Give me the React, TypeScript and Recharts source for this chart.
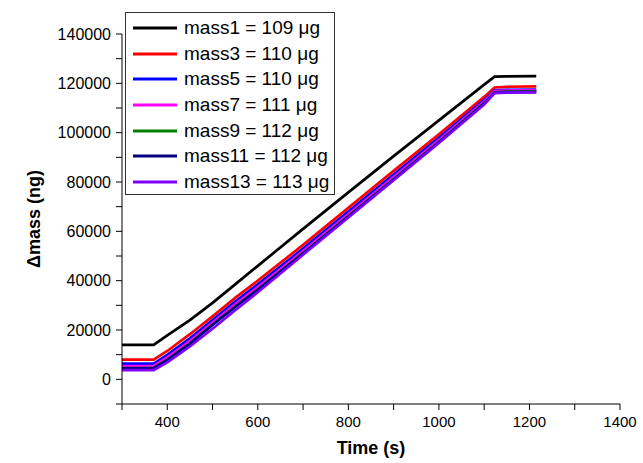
import React from 'react';
import { LineChart, Line, XAxis, YAxis, Legend } from 'recharts';

const times = [300, 370, 400, 450, 500, 550, 600, 700, 800, 900, 1000, 1100, 1123, 1150, 1215];
const mass1 = [14000, 14000, 17800, 24000, 31000, 38500, 46000, 61000, 75800, 90500, 105000, 119500, 122700, 122800, 122900];
const mass3 = [8000, 8000, 11500, 18300, 25500, 33000, 40000, 54500, 69500, 84500, 99300, 114500, 118300, 118600, 118800];
const mass5 = [6400, 6400, 9900, 16600, 24000, 31500, 38500, 53000, 68000, 83000, 97900, 113200, 117200, 117400, 117500];
const mass7 = [5400, 5400, 8900, 15500, 23000, 30400, 37400, 52000, 67000, 82000, 97000, 112600, 116900, 117100, 117200];
const mass9 = [4600, 4600, 8000, 14600, 22200, 29500, 36500, 51200, 66200, 81200, 96300, 112000, 116400, 116600, 116700];
const mass11 = [4500, 4500, 7800, 14400, 22000, 29300, 36300, 51000, 66000, 81000, 96100, 111800, 116200, 116400, 116500];
const mass13 = [3700, 3700, 6900, 13300, 20500, 28000, 35300, 50500, 65600, 80700, 95800, 111400, 116000, 116200, 116300];

const seriesKeys = ['m1', 'm3', 'm5', 'm7', 'm9', 'm11', 'm13'];
const seriesNames = [
  'mass1 = 109 μg',
  'mass3 = 110 μg',
  'mass5 = 110 μg',
  'mass7 = 111 μg',
  'mass9 = 112 μg',
  'mass11 = 112 μg',
  'mass13 = 113 μg',
];
const seriesValues = [mass1, mass3, mass5, mass7, mass9, mass11, mass13];
const seriesColors = ['#000000', '#FF0000', '#0000FF', '#FF00FF', '#008000', '#000080', '#8000FF'];

const xTicks = [300, 400, 500, 600, 700, 800, 900, 1000, 1100, 1200, 1300, 1400];
const yTicks = [-10000, 0, 10000, 20000, 30000, 40000, 50000, 60000, 70000, 80000, 90000, 100000, 110000, 120000, 130000, 140000];

const data = times.map((t, i) => {
  const row: Record<string, number> = { t };
  seriesKeys.forEach((k, j) => {
    row[k] = seriesValues[j][i];
  });
  return row;
});

const FONT = '"Liberation Sans", Arial, sans-serif';

const renderLegend = () => (
  <div
    style={{
      width: 208,
      height: 179,
      border: '1px solid #333',
      background: '#fff',
      boxSizing: 'content-box',
      paddingTop: 2,
      fontFamily: FONT,
    }}
  >
    {seriesNames.map((name, i) => (
      <div key={name} style={{ display: 'flex', alignItems: 'center', height: 25.7 }}>
        <svg width={52} height={10} style={{ flex: 'none' }}>
          <line x1={7} y1={5} x2={51} y2={5} stroke={seriesColors[i]} strokeWidth={3} />
        </svg>
        <span style={{ fontSize: 19, marginLeft: 6, color: '#000', whiteSpace: 'nowrap', lineHeight: '20px' }}>{name}</span>
      </div>
    ))}
  </div>
);

const xFmt = (v: number) => (v % 200 === 0 && v >= 400 ? String(v) : '');
const yFmt = (v: number) => (v % 20000 === 0 && v >= 0 ? String(v) : '');

export default function App() {
  return (
    <div style={{ position: 'absolute', left: 0, top: 0, width: 643, height: 463, background: '#fff' }}>
      <LineChart
        width={643}
        height={463}
        data={data}
        margin={{ top: 34, right: 23, bottom: 29, left: 42 }}
      >
        <XAxis
          dataKey="t"
          type="number"
          domain={[300, 1400]}
          ticks={xTicks}
          tickFormatter={xFmt}
          interval={0}
          height={30}
          tickSize={6}
          tickMargin={6}
          stroke="#000"
          tick={{ fill: '#000', fontSize: 15, fontFamily: FONT }}
          axisLine={{ stroke: '#000', strokeWidth: 1 }}
          tickLine={{ stroke: '#000', strokeWidth: 1 }}
          allowDataOverflow
          label={{
            value: 'Time (s)',
            position: 'bottom',
            offset: 7,
            style: { fontSize: 18, fontWeight: 'bold', fontFamily: FONT, fill: '#000' },
          }}
        />
        <YAxis
          type="number"
          domain={[-10000, 140000]}
          ticks={yTicks}
          tickFormatter={yFmt}
          interval={0}
          width={80}
          tickSize={6}
          tickMargin={5}
          stroke="#000"
          tick={{ fill: '#000', fontSize: 16, fontFamily: FONT }}
          axisLine={{ stroke: '#000', strokeWidth: 1 }}
          tickLine={{ stroke: '#000', strokeWidth: 1 }}
          allowDataOverflow
          label={{
            value: 'Δmass (ng)',
            angle: -90,
            position: 'insideLeft',
            offset: -8,
            style: { fontSize: 18, fontWeight: 'bold', fontFamily: FONT, fill: '#000', textAnchor: 'middle' },
          }}
        />
        <Legend
          layout="vertical"
          align="center"
          verticalAlign="middle"
          content={renderLegend}
          wrapperStyle={{ left: 125, top: 12, width: 210 }}
        />
        {seriesKeys.map((k, i) => (
          <Line
            key={k}
            dataKey={k}
            name={seriesNames[i]}
            stroke={seriesColors[i]}
            strokeWidth={2.7}
            dot={false}
            type="linear"
            isAnimationActive={false}
          />
        ))}
      </LineChart>
    </div>
  );
}
